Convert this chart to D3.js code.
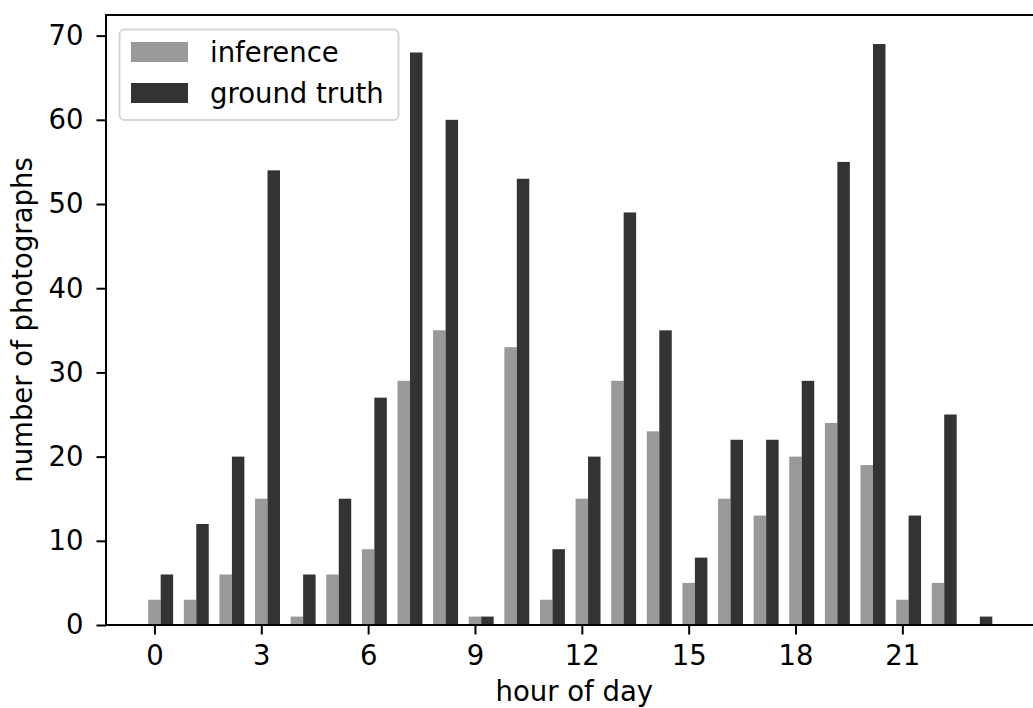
<!DOCTYPE html>
<html>
<head>
<meta charset="utf-8">
<script src="https://cdn.jsdelivr.net/npm/d3@7"></script>
<style>
  body { margin: 0; background: #fff; }
  svg text { font-family: "DejaVu Sans", sans-serif; fill: #000; }
</style>
</head>
<body>
<svg width="1033" height="708"></svg>
<script>
// hours 0..23
const hours = d3.range(0, 24);
const inference = [3, 3, 6, 15, 1, 6, 9, 29, 35, 1, 33, 3, 15, 29, 23, 5, 15, 13, 20, 24, 19, 3, 5, 0];
const groundTruth = [6, 12, 20, 54, 6, 15, 27, 68, 60, 1, 53, 9, 20, 49, 35, 8, 22, 22, 29, 55, 69, 13, 25, 1];
const xTicks = [0, 3, 6, 9, 12, 15, 18, 21];
const yTicks = [0, 10, 20, 30, 40, 50, 60, 70];

const barW = 0.35;
const fontSize = "27.5px";
const svg = d3.select("svg");
const plotLeft = 106, plotRight = 1034.5, plotTop = 15, plotBottom = 625;

const x = d3.scaleLinear().domain([-1.36, 24.71]).range([plotLeft, plotRight]);
const y = d3.scaleLinear().domain([0, 72.45]).range([plotBottom, plotTop]);

// bars: inference left of the hour, ground truth right of it
svg.append("g")
  .selectAll("rect")
  .data(hours)
  .enter()
  .append("rect")
  .attr("x", d => x(d - barW / 2))
  .attr("width", d => x(barW) - x(0))
  .attr("y", d => y(inference[d]))
  .attr("height", d => y(0) - y(inference[d]))
  .attr("fill", "#999999");

svg.append("g")
  .selectAll("rect")
  .data(hours)
  .enter()
  .append("rect")
  .attr("x", d => x(d + barW / 2))
  .attr("width", d => x(barW) - x(0))
  .attr("y", d => y(groundTruth[d]))
  .attr("height", d => y(0) - y(groundTruth[d]))
  .attr("fill", "#333333");

// axes
const xAxis = d3.axisBottom(x).tickValues(xTicks).tickSize(9.5).tickPadding(10.5).tickFormat(d3.format("d"));
const yAxis = d3.axisLeft(y).tickValues(yTicks).tickSize(9.5).tickPadding(13).tickFormat(d3.format("d"));

const gx = svg.append("g").attr("transform", `translate(0,${plotBottom})`).call(xAxis);
const gy = svg.append("g").attr("transform", `translate(${plotLeft},0)`).call(yAxis);
[gx, gy].forEach(g => {
  g.select(".domain").remove();
  g.selectAll("line").attr("stroke", "#000").attr("stroke-width", 2);
  g.selectAll("text").style("font-size", fontSize).attr("fill", "#000");
});

// frame (right spine falls just outside the picture)
svg.append("rect")
  .attr("x", plotLeft).attr("y", plotTop)
  .attr("width", plotRight - plotLeft + 4).attr("height", plotBottom - plotTop)
  .attr("fill", "none").attr("stroke", "#000").attr("stroke-width", 2);

// axis labels
svg.append("text")
  .attr("x", (plotLeft + plotRight) / 2 + 4).attr("y", 701)
  .attr("text-anchor", "middle")
  .style("font-size", fontSize)
  .text("hour of day");

svg.append("text")
  .attr("transform", `translate(32,${(plotTop + plotBottom) / 2}) rotate(-90)`)
  .attr("text-anchor", "middle")
  .style("font-size", fontSize)
  .text("number of photographs");

// legend
const legend = svg.append("g");
legend.append("rect")
  .attr("x", 119.5).attr("y", 29.5).attr("width", 279).attr("height", 90.5)
  .attr("rx", 5).attr("fill", "#fff").attr("fill-opacity", 0.8)
  .attr("stroke", "#d6d6d6").attr("stroke-width", 2);

const legendItems = [
  { label: "inference", color: "#999999" },
  { label: "ground truth", color: "#333333" }
];
legendItems.forEach((d, i) => {
  legend.append("rect")
    .attr("x", 131).attr("y", 42 + i * 41)
    .attr("width", 57).attr("height", 20)
    .attr("fill", d.color);
  legend.append("text")
    .attr("x", 210).attr("y", 61.7 + i * 41)
    .style("font-size", fontSize)
    .text(d.label);
});
</script>
</body>
</html>
